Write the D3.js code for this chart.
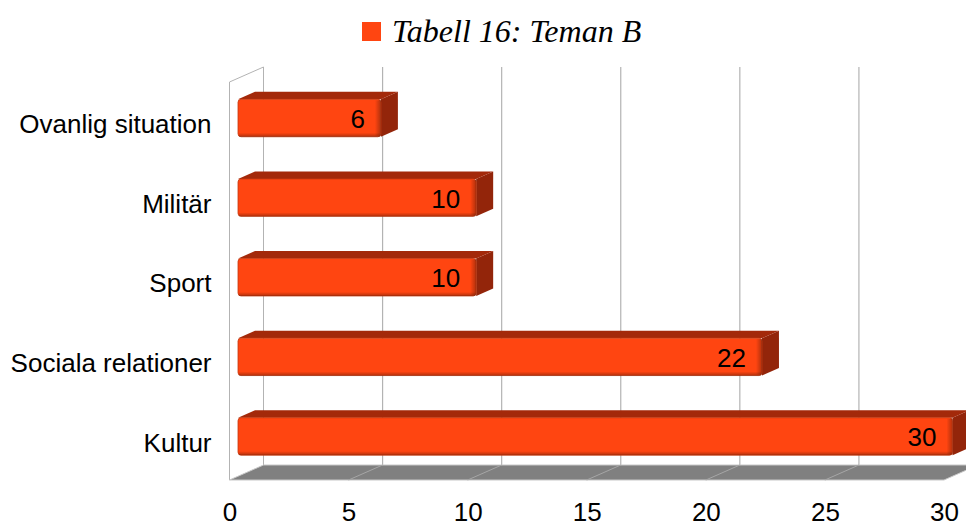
<!DOCTYPE html>
<html>
<head>
<meta charset="utf-8">
<script src="https://cdn.jsdelivr.net/npm/d3@7"></script>
<style>
  body { margin: 0; background: #fff; }
  svg { display: block; }
  .tick text { font-family: "Liberation Sans", Arial, sans-serif; font-size: 26px; fill: #000; }
</style>
</head>
<body>
<svg id="chart" width="966" height="527"></svg>
<script>
// data
var categories = ["Ovanlig situation", "Militär", "Sport", "Sociala relationer", "Kultur"];
var values = [6, 10, 10, 22, 30];
var xTicks = [0, 5, 10, 15, 20, 25, 30];
var seriesName = "Tabell 16: Teman B";

var data = categories.map(function(c, i){ return { cat: c, value: values[i] }; });

// 3d depth (oblique projection)
var depth = { dx: 34, dy: 15 };
var colors = { front: "#ff4511", top: "#a3290a", side: "#93250a", grid: "#b3b3b3", floor: "#808080" };

var svg = d3.select("#chart");

// scales (front plane)
var x = d3.scaleLinear().domain([0, 30]).range([229.5, 944]);
var y = d3.scaleBand().domain(categories).range([82, 480])
    .paddingInner(0.53).paddingOuter(0.265);

function px(v, d){ return x(v) + d * depth.dx; }
function py(yy, d){ return yy - d * depth.dy; }
var yTop = y.range()[0], yBot = y.range()[1];

// gradients for the front face edges
var defs = svg.append("defs");
var gR = defs.append("linearGradient").attr("id", "shadeR").attr("x1", 0).attr("x2", 1).attr("y1", 0).attr("y2", 0);
gR.append("stop").attr("offset", "0%").attr("stop-color", "#000").attr("stop-opacity", 0);
gR.append("stop").attr("offset", "100%").attr("stop-color", "#000").attr("stop-opacity", 0.3);
var gB = defs.append("linearGradient").attr("id", "shadeB").attr("x1", 0).attr("x2", 0).attr("y1", 0).attr("y2", 1);
gB.append("stop").attr("offset", "0%").attr("stop-color", "#000").attr("stop-opacity", 0);
gB.append("stop").attr("offset", "100%").attr("stop-color", "#000").attr("stop-opacity", 0.3);

// left wall
var wall = svg.append("g").attr("class", "wall")
    .attr("fill", "none").attr("stroke", colors.grid).attr("stroke-width", 1);
wall.append("path")
    .attr("d", "M" + px(0, 0) + "," + py(yBot, 0) + "V" + py(yTop, 0) +
              "L" + px(0, 1) + "," + py(yTop, 1) + "V" + py(yBot, 1));

// back wall grid
svg.append("g").attr("class", "grid")
  .selectAll("line")
  .data(xTicks.slice(1))
  .enter().append("line")
    .attr("x1", function(d){ return px(d, 1); })
    .attr("x2", function(d){ return px(d, 1); })
    .attr("y1", py(yTop, 1))
    .attr("y2", py(yBot, 1))
    .attr("stroke", colors.grid)
    .attr("stroke-width", 1.2);

// floor
var floor = svg.append("g").attr("class", "floor");
floor.append("path")
    .attr("d", "M" + px(0, 0) + "," + py(yBot, 0) + "L" + px(30, 0) + "," + py(yBot, 0) +
              "L" + px(30, 1) + "," + py(yBot, 1) + "L" + px(0, 1) + "," + py(yBot, 1) + "Z")
    .attr("fill", colors.floor)
    .attr("stroke", "#c8c8c8")
    .attr("stroke-width", 1);
floor.selectAll("line")
  .data(xTicks.slice(1, -1))
  .enter().append("line")
    .attr("x1", function(d){ return px(d, 0); })
    .attr("y1", py(yBot, 0))
    .attr("x2", function(d){ return px(d, 1); })
    .attr("y2", py(yBot, 1))
    .attr("stroke", "#a6a6a6")
    .attr("stroke-width", 1);

// bars
var d0 = 0.25, d1 = 0.75;
var bars = svg.append("g").attr("class", "bars")
  .selectAll("g")
  .data(data)
  .enter().append("g");

// side face
bars.append("path")
    .attr("fill", colors.side)
    .attr("d", function(d){
      var yt = y(d.cat), yb = y(d.cat) + y.bandwidth();
      return "M" + px(d.value, d0) + "," + py(yt, d0) +
             "L" + px(d.value, d1) + "," + py(yt, d1) +
             "L" + px(d.value, d1) + "," + py(yb, d1) +
             "L" + px(d.value, d0) + "," + py(yb, d0) + "Z";
    });

// top face
bars.append("path")
    .attr("fill", colors.top)
    .attr("d", function(d){
      var yt = y(d.cat);
      return "M" + px(0, d0) + "," + py(yt, d0) +
             "L" + px(0, d1) + "," + py(yt, d1) +
             "L" + px(d.value, d1) + "," + py(yt, d1) +
             "L" + px(d.value, d0) + "," + py(yt, d0) + "Z";
    });

// front face
bars.append("rect")
    .attr("x", px(0, d0))
    .attr("y", function(d){ return py(y(d.cat), d0); })
    .attr("width", function(d){ return x(d.value) - x(0); })
    .attr("height", y.bandwidth())
    .attr("rx", 3)
    .attr("fill", colors.front)
    .attr("stroke", "#c33810")
    .attr("stroke-width", 0.8);

bars.append("rect")
    .attr("x", function(d){ return px(d.value, d0) - 6; })
    .attr("y", function(d){ return py(y(d.cat), d0) + 1; })
    .attr("width", 6)
    .attr("height", y.bandwidth() - 2)
    .attr("fill", "url(#shadeR)");

bars.append("rect")
    .attr("x", px(0, d0) + 1)
    .attr("y", function(d){ return py(y(d.cat), d0) + y.bandwidth() - 4; })
    .attr("width", function(d){ return x(d.value) - x(0) - 2; })
    .attr("height", 4)
    .attr("fill", "url(#shadeB)");

// value labels
bars.append("text")
    .attr("x", function(d){ return px(d.value, d0) - 16; })
    .attr("y", function(d){ return py(y(d.cat) + y.bandwidth() / 2, d0) + 10; })
    .attr("text-anchor", "end")
    .attr("font-family", "Liberation Sans, Arial, sans-serif")
    .attr("font-size", "26px")
    .attr("fill", "#000")
    .text(function(d){ return d.value; });

// x axis (front plane)
var xAxisGroup = svg.append("g")
    .attr("class", "x-axis")
    .attr("transform", "translate(0," + 495 + ")")
    .call(d3.axisBottom(x).tickValues(xTicks).tickSize(0).tickPadding(8));
xAxisGroup.select(".domain").remove();

// y axis (category labels)
var yAxisGroup = svg.append("g")
    .attr("class", "y-axis")
    .attr("transform", "translate(" + x(0) + ",0)")
    .call(d3.axisLeft(y).tickSize(0).tickPadding(18));
yAxisGroup.select(".domain").remove();
yAxisGroup.selectAll("text").attr("dy", "0.44em");

// legend
var legend = svg.append("g").attr("class", "legend");
legend.append("rect")
    .attr("x", 362).attr("y", 22)
    .attr("width", 19).attr("height", 19)
    .attr("fill", colors.front);
legend.append("text")
    .attr("x", 392).attr("y", 42)
    .attr("font-family", "Liberation Serif, Times New Roman, serif")
    .attr("font-style", "italic")
    .attr("font-size", "32px")
    .attr("fill", "#000")
    .text(seriesName);
</script>
</body>
</html>
